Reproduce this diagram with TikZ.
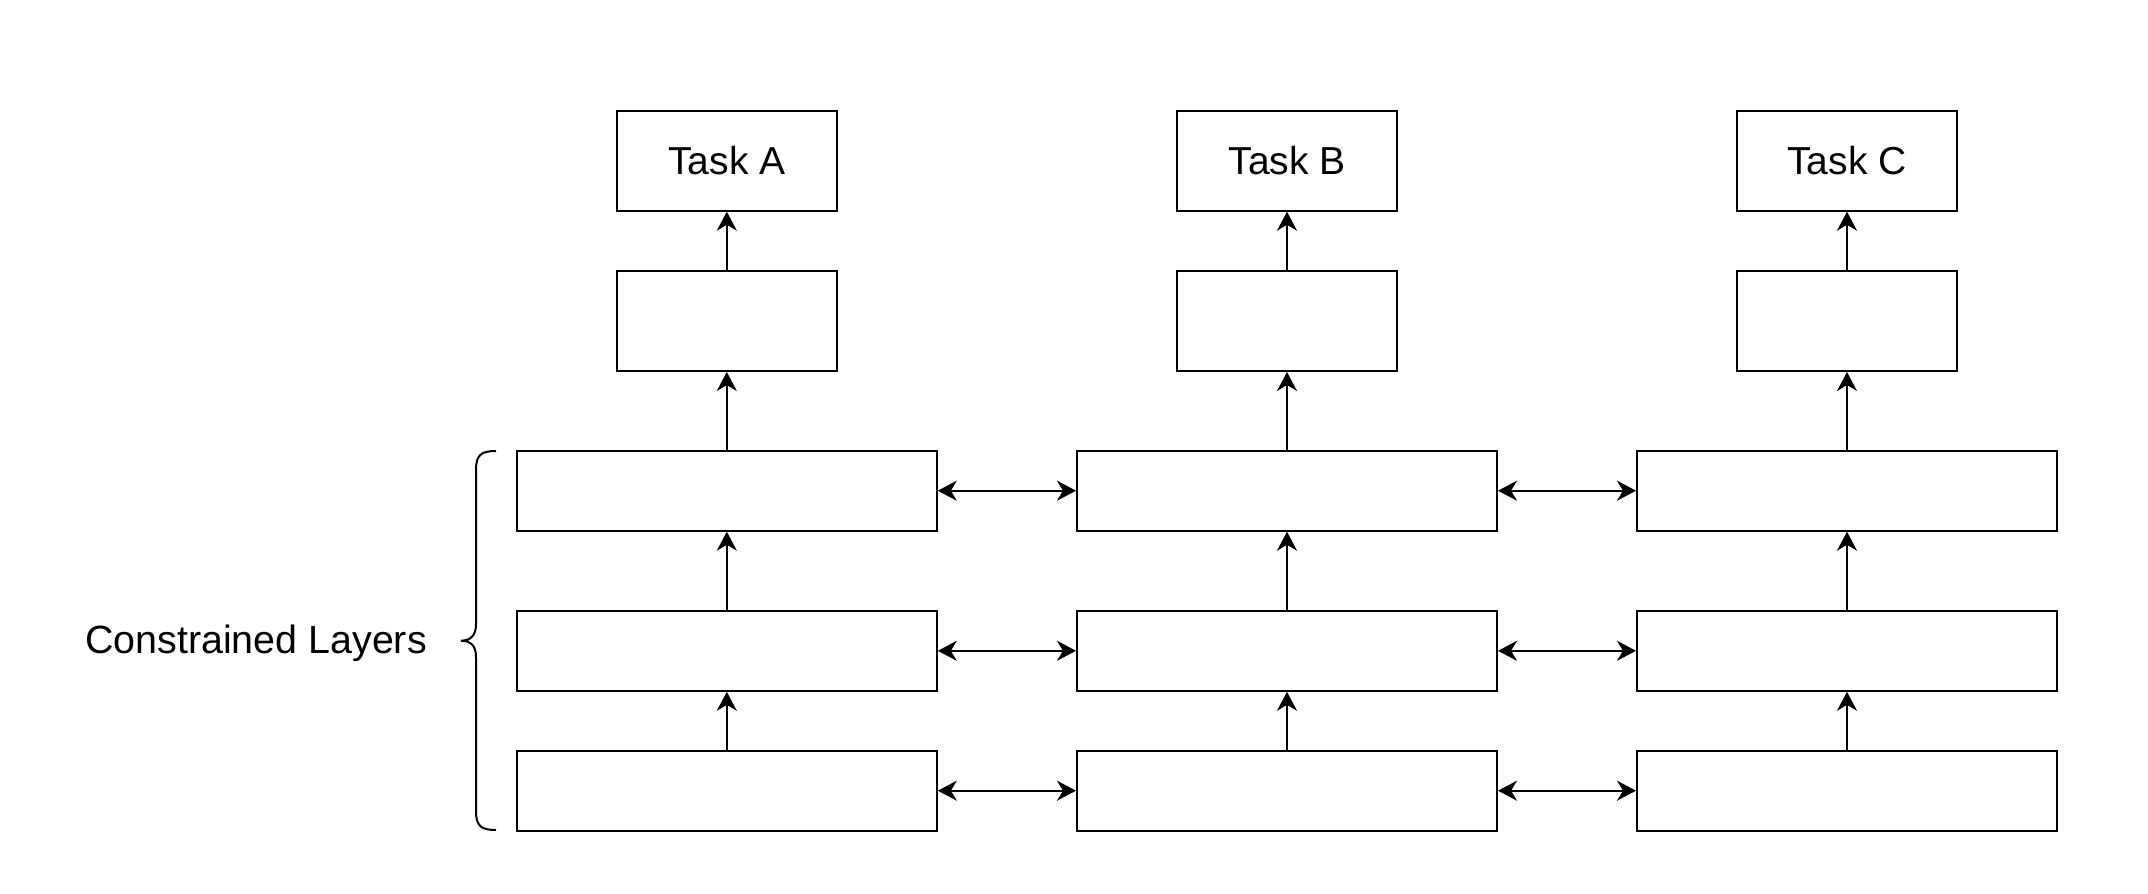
\documentclass[tikz,border=0pt]{standalone}
\usepackage{fontspec}
\setmainfont{Liberation Sans}
\usetikzlibrary{arrows.meta}
\tikzset{
  taskbox/.style={draw, line width=1pt, minimum width=110pt, minimum height=50pt, inner sep=0pt, font=\fontsize{19.5pt}{23pt}\selectfont},
  layerbox/.style={draw, line width=1pt, minimum width=210pt, minimum height=40pt, inner sep=0pt},
  uparrow/.style={line width=1pt, -{Stealth[length=9.5pt,width=10pt,inset=3pt]}},
  biarrow/.style={line width=1pt, {Stealth[length=9.5pt,width=10pt,inset=3pt]}-{Stealth[length=9.5pt,width=10pt,inset=3pt]}},
  bracepath/.style={line width=1pt},
  lbl/.style={inner sep=0pt, font=\fontsize{19.7pt}{23pt}\selectfont}
}
\begin{document}
\begin{tikzpicture}[x=0.5pt,y=-0.5pt]
\useasboundingbox (0,0) rectangle (2148,894);
% columns
\foreach \n/\cx/\t in {A/726.8/Task A, B/1287/Task B, C/1847/Task C}{
  \node[taskbox] (t\n) at (\cx,160.7) {\t};
  \node[taskbox] (m\n) at (\cx,321) {};
  \node[layerbox] (u\n) at (\cx,490.7) {};
  \node[layerbox] (v\n) at (\cx,650.8) {};
  \node[layerbox] (w\n) at (\cx,790.7) {};
  \draw[uparrow] (m\n.north) -- (t\n.south);
  \draw[uparrow] (u\n.north) -- (m\n.south);
  \draw[uparrow] (v\n.north) -- (u\n.south);
  \draw[uparrow] (w\n.north) -- (v\n.south);
}
% horizontal links
\foreach \r in {u,v,w}{
  \draw[biarrow] (\r A.east) -- (\r B.west);
  \draw[biarrow] (\r B.east) -- (\r C.west);
}
% brace
\draw[bracepath] (496,451) .. controls (481,451) and (476,455) .. (476,470) -- (476,624)
  .. controls (476,635) and (471,640.7) .. (461,640.7)
  .. controls (471,640.7) and (476,646) .. (476,657) -- (476,811)
  .. controls (476,826) and (481,830) .. (496,830);
\node[lbl, anchor=base] (cl) at (256,653) {Constrained Layers};
\end{tikzpicture}
\end{document}
